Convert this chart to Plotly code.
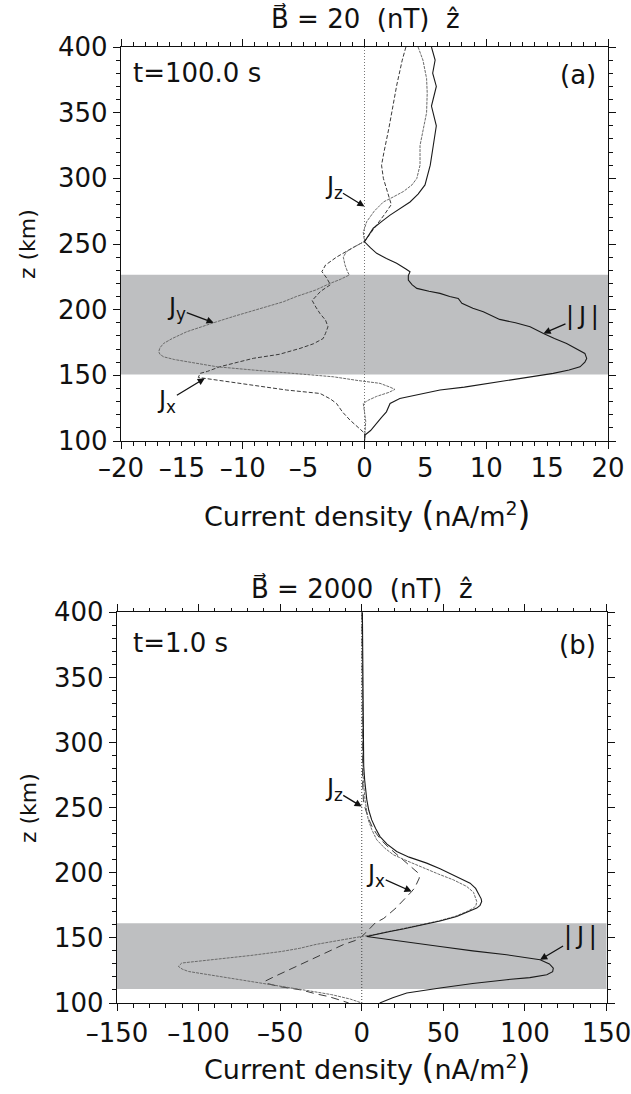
import numpy as np
import plotly.graph_objects as go

W, H = 631, 1094

# ---------------- Panel (a): B = 20 nT, t = 100 s ----------------
a_jx_z = [400, 390, 371, 350, 338, 320, 310, 300, 290, 280, 272, 262, 252, 247, 240, 234, 229, 224, 219, 214,
          207, 202, 197, 192, 187, 182, 178, 174, 170.5, 166, 163, 160, 156.5, 153, 151.5, 148.4, 146, 142.6,
          138.8, 136.2, 132, 128.6, 122, 116, 110, 106, 100]
a_jx_v = [3.4, 3.1, 2.65, 2.25, 2.0, 1.6, 1.4, 1.55, 1.9, 2.2, 1.6, 0.8, 0.0, -1.0, -2.3, -3.2, -3.5, -3.1, -2.8, -3.6,
          -4.3, -4.0, -3.65, -3.2, -3.0, -3.2, -3.4, -4.2, -5.3, -7.0, -9.1, -10.4, -11.9, -12.9, -13.5, -13.65, -11.8, -9.1,
          -6.4, -3.65, -2.8, -2.3, -1.8, -1.2, -0.5, 0.0, 0.0]

a_jy_z = [400, 390, 376, 365, 350, 337, 325, 310, 300, 295, 290, 286, 282, 275, 267, 259, 252, 248, 244, 240,
          234, 229, 226.4, 223, 220, 215, 210, 206, 203, 199.7, 195, 190.8, 187, 183.2, 178, 174.3, 171, 168, 166,
          164.1, 162, 160.3, 158, 156.5, 154, 151.5, 148.9, 146, 143.9, 141, 139.3, 137, 134, 131, 128.6, 122, 115,
          108, 100]
a_jy_v = [4.4, 4.8, 5.1, 5.15, 5.1, 4.8, 4.56, 4.56, 4.3, 3.9, 3.2, 2.4, 1.55, 0.8, 0.18, -0.1, 0.0, -0.8, -1.5, -1.74,
          -1.6, -1.4, -1.25, -2.0, -2.83, -4.0, -5.6, -6.67, -7.8, -9.13, -10.7, -12.14, -13.3, -14.6, -15.8, -16.5, -16.8, -16.9, -16.8,
          -16.5, -15.6, -14.6, -13.2, -12.1, -9.1, -5.85, -2.56, -0.5, 1.27, 2.1, 2.5, 2.0, 1.0, 0.3, -0.1, 0.0, 0.1,
          0.05, 0.0]

a_jz_z = [100, 150, 200, 250, 300, 350, 400]
a_jz_v = [0, 0, 0, 0, 0, 0, 0]

a_jm_z = [400, 390, 380, 370, 355, 340, 325, 310, 295, 288, 282, 277, 272, 267, 262, 256, 251.7, 247, 242.9, 239,
          235.3, 231, 228.9, 226, 222.5, 219, 216.2, 214, 212.4, 210, 208.6, 204.8, 201, 198.4, 195, 192.6, 190, 187,
          181.9, 178, 174.3, 170, 166.7, 162.9, 160, 156.5, 154, 151.5, 148, 143.9, 141, 138.8, 135, 132.4, 128.6,
          125, 122.2, 118, 113.4, 108, 104.5, 100]
a_jm_v = [5.5, 5.8, 5.6, 5.9, 5.5, 5.9, 5.65, 5.4, 4.97, 4.4, 3.74, 2.9, 2.1, 1.4, 0.72, 0.3, 0.0, 0.5, 1.0, 1.8,
          2.64, 3.4, 3.74, 3.6, 3.6, 3.9, 4.3, 5.3, 6.2, 7.0, 7.7, 8.0, 8.9, 9.76, 10.5, 11.1, 12.4, 13.6,
          14.7, 15.6, 16.6, 17.4, 18.1, 18.25, 18.1, 17.7, 16.8, 15.5, 13.0, 10.3, 8.2, 6.2, 4.2, 2.9, 2.1,
          1.9, 1.8, 1.4, 1.0, 0.5, 0.04, 0.0]

a_band = [150.7, 226.6]

# ---------------- Panel (b): B = 2000 nT, t = 1 s ----------------
b_jm_z = [400, 350, 300, 282, 271, 256, 248, 240.6, 234, 227.8, 222, 216.3, 212, 207.4, 203, 198.4, 195, 192, 188,
          184.4, 180, 177.9, 175, 172.9, 170, 166.4, 163, 160, 157, 154.9, 152.5, 151.1, 149.5, 147, 143.4, 140, 137,
          133.2, 130, 126.8, 124, 121.7, 119.5, 117.9, 115, 111.5, 107.7, 104, 101.2, 100]
b_jm_v = [0.4, 0.6, 0.9, 1.2, 1.8, 3.1, 4.3, 6.1, 8.5, 11.2, 15.5, 21.4, 29, 39.8, 48, 56.1, 61.5, 66.4, 69.8,
          71.5, 73.2, 73.5, 72.5, 70.5, 65, 58.2, 48, 37.7, 26, 17.3, 9, 3.0, 12, 28, 48, 68, 88.8,
          109.3, 115, 117.4, 117, 113.4, 103, 88.8, 68, 48, 27.6, 19, 13.2, 11]

b_jy_z = [400, 350, 300, 282, 271, 256, 248, 240.6, 233, 225.3, 219, 213.8, 209, 203.6, 199, 194.6, 189.5, 185,
          181.8, 177.9, 175, 172.9, 170, 166.4, 163, 160, 157, 154.9, 152.5, 151.1, 148, 145, 142, 139.6, 136.5,
          133.2, 131.5, 130.7, 128.1, 126, 124.2, 122, 119.2, 116, 112.7, 109.5, 106.4, 103, 100]
b_jy_v = [0.2, 0.3, 0.5, 0.7, 1.0, 2.0, 3.0, 4.0, 6.2, 9.2, 14, 19.4, 28, 37.7, 47, 56.1, 64.3, 68.5,
          69.4, 70.5, 70, 68.5, 64, 57, 47, 36.5, 25, 16.5, 7.5, 0, -14, -28, -38, -49, -68,
          -89.9, -102, -110.3, -112.4, -110, -106.2, -95, -79.7, -64, -49, -33, -18.4, -7, 0]

b_jx_z = [400, 300, 271, 256, 250, 242, 235, 230, 225, 220, 215, 210, 206, 202, 199.7, 196, 192, 188.5, 185.6,
          182, 178, 173, 169, 165, 161.4, 157, 154, 151.1, 148, 145, 141, 137, 131, 125.5, 120, 116.6, 115, 112.5,
          110, 107, 105, 102.5, 100]
b_jx_v = [0.1, 0.3, 0.5, 1.0, 2.0, 4, 6.5, 9, 12, 16, 20.5, 25, 28.5, 32, 34.7, 35.3, 33.7, 32.5, 30.6,
          28, 24.5, 21, 17.3, 13.5, 8.2, 5, 2.5, 0, -4, -11, -18, -24.5, -35, -45, -54, -59.5, -58, -50,
          -37, -28, -20.5, -14, -8]

b_jz_z = [100, 150, 200, 250, 300, 350, 400]
b_jz_v = [0, 0, 0, 0, 0, 0, 0]

b_band = [110.7, 161.3]

a_xticks = [-20, -15, -10, -5, 0, 5, 10, 15, 20]
b_xticks = [-150, -100, -50, 0, 50, 100, 150]
yticks = [100, 150, 200, 250, 300, 350, 400]

# ---------------- layout geometry (pixels) ----------------
A_L, A_R, A_T, A_B = 121, 608, 47, 441
B_L, B_R, B_T, B_B = 117, 606.5, 612.3, 1003

def fx(x):
    return x / W

def fy(y):
    return 1 - y / H

DJ = "DejaVu Sans, sans-serif"
TICKFONT = dict(family=DJ, size=26, color="#111")
LABFONT = dict(family=DJ, size=24, color="#111")
XTITFONT = dict(family=DJ, size=27, color="#111")
YTITFONT = dict(family=DJ, size=22, color="#111")
HEADFONT = dict(family=DJ, size=26, color="#111")

fig = go.Figure()

def add_panel(xa, ya, jz, jx, jy, jm, dash_x, jz_col):
    fig.add_trace(go.Scatter(x=jz[1], y=jz[0], mode="lines", xaxis=xa, yaxis=ya,
                             line=dict(color=jz_col, width=1, dash="1px,2px"), showlegend=False))
    fig.add_trace(go.Scatter(x=jx[1], y=jx[0], mode="lines", xaxis=xa, yaxis=ya,
                             line=dict(color="#3a3a3a", width=1, dash=dash_x), showlegend=False))
    fig.add_trace(go.Scatter(x=jy[1], y=jy[0], mode="lines", xaxis=xa, yaxis=ya,
                             line=dict(color="#6a6a6a", width=1, dash="3px,1px"), showlegend=False))
    fig.add_trace(go.Scatter(x=jm[1], y=jm[0], mode="lines", xaxis=xa, yaxis=ya,
                             line=dict(color="#1a1a1a", width=1.1), showlegend=False))

add_panel("x", "y", (a_jz_z, a_jz_v), (a_jx_z, a_jx_v), (a_jy_z, a_jy_v), (a_jm_z, a_jm_v), "4px,2px", "#777")
add_panel("x2", "y2", (b_jz_z, b_jz_v), (b_jx_z, b_jx_v), (b_jy_z, b_jy_v), (b_jm_z, b_jm_v), "8px,5px", "#444")

common_axis = dict(showline=True, linecolor="#111", linewidth=1.3, mirror="ticks", ticks="outside",
                   tickcolor="#111", tickwidth=1.2, showgrid=False, zeroline=False, tickfont=TICKFONT,
                   automargin=False, ticklabeloverflow="allow")

def dash_minus(t):
    return ("\u2013" + str(-t)) if t < 0 else str(t)

fig.update_layout(
    width=W, height=H, margin=dict(l=0, r=0, t=0, b=0, pad=0, autoexpand=False),
    paper_bgcolor="white", plot_bgcolor="white",
    xaxis=dict(domain=[fx(A_L), fx(A_R)], anchor="y", range=[-20, 20], tickvals=a_xticks,
               ticktext=[dash_minus(t) for t in a_xticks], ticklen=3.5,
               minor=dict(dtick=1, ticklen=3.5, tickcolor="#111", ticks="outside"), **common_axis),
    xaxis3=dict(overlaying="x", anchor="y", range=[-20, 20], dtick=10, tick0=0, ticklen=7,
                showticklabels=False, ticks="outside", mirror="ticks", showline=False, tickcolor="#111",
                tickwidth=1.2, showgrid=False, zeroline=False, automargin=False),
    yaxis=dict(domain=[fy(A_B), fy(A_T)], anchor="x", range=[100, 400], tickvals=yticks, ticklen=7,
               minor=dict(dtick=10, ticklen=3.5, tickcolor="#111", ticks="outside"), **common_axis),
    xaxis2=dict(domain=[fx(B_L), fx(B_R)], anchor="y2", range=[-150, 150], tickvals=b_xticks,
                ticktext=[dash_minus(t) for t in b_xticks], ticklen=7,
                minor=dict(dtick=10, ticklen=3.5, tickcolor="#111", ticks="outside"), **common_axis),
    yaxis2=dict(domain=[fy(B_B), fy(B_T)], anchor="x2", range=[100, 400], tickvals=yticks, ticklen=7,
                minor=dict(dtick=10, ticklen=3.5, tickcolor="#111", ticks="outside"), **common_axis),
)

# invisible trace so the overlay tick axis is drawn
fig.add_trace(go.Scatter(x=[None], y=[None], xaxis="x3", yaxis="y", showlegend=False, hoverinfo="skip"))

# shaded bands
fig.add_shape(type="rect", xref="x domain", yref="y", x0=0, x1=1, y0=a_band[0], y1=a_band[1],
              fillcolor="#bebfc1", line=dict(width=0), layer="below")
fig.add_shape(type="rect", xref="x2 domain", yref="y2", x0=0, x1=1, y0=b_band[0], y1=b_band[1],
              fillcolor="#bebfc1", line=dict(width=0), layer="below")

ann = []

def text(x, y, s, font=LABFONT, xanchor="center", yanchor="middle", angle=0):
    ann.append(dict(x=fx(x), y=fy(y), xref="paper", yref="paper", text=s, showarrow=False,
                    font=font, xanchor=xanchor, yanchor=yanchor, textangle=angle))

def label_arrow(xa, ya, zs, vs, ztip, s, ax, ay):
    order = np.argsort(zs)
    vt = float(np.interp(ztip, np.array(zs)[order], np.array(vs)[order]))
    ann.append(dict(x=vt, y=ztip, xref=xa, yref=ya, text=s, font=LABFONT, showarrow=True, ax=ax, ay=ay,
                    arrowhead=2, arrowsize=1.1, arrowwidth=1.3, arrowcolor="#111", standoff=0,
                    borderpad=0))

ABSJ = "|\u2009J\u2009|"

# titles
text(365, 19, "B\u20D7 = 20  (nT)  z\u0302", font=HEADFONT)
text(362, 588, "B\u20D7 = 2000  (nT)  z\u0302", font=HEADFONT)
# axis titles
big_par = "<span style='font-size:33px'>(</span>nA/m<sup>2</sup><span style='font-size:33px'>)</span>"
text(367, 514, "Current density " + big_par, font=XTITFONT)
text(367, 1067, "Current density " + big_par, font=XTITFONT)
text(28, 244, "z (km)", font=YTITFONT, angle=-90)
text(28, 808, "z (km)", font=YTITFONT, angle=-90)
# panel labels
text(131, 73, "t=100.0 s", font=TICKFONT, xanchor="left")
text(598, 75, "(a)", font=TICKFONT, xanchor="right")
text(131, 643, "t=1.0 s", font=TICKFONT, xanchor="left")
text(598, 645, "(b)", font=TICKFONT, xanchor="right")

# curve labels (panel a)
label_arrow("x", "y", a_jz_z, a_jz_v, 278.6, "J<sub>z</sub>", -31, -19)
label_arrow("x", "y", a_jy_z, a_jy_v, 190.0, "J<sub>y</sub>", -37, -14)
label_arrow("x", "y", a_jx_z, a_jx_v, 147.7, "J<sub>x</sub>", -38, 23)
label_arrow("x", "y", a_jm_z, a_jm_v, 181.9, ABSJ, 39, -17)

# curve labels (panel b)
label_arrow("x2", "y2", b_jz_z, b_jz_v, 250.8, "J<sub>z</sub>", -28, -17)
label_arrow("x2", "y2", b_jx_z, b_jx_v, 185.6, "J<sub>x</sub>", -36, -16)
label_arrow("x2", "y2", b_jm_z, b_jm_v, 133.2, ABSJ, 40, -24)

fig.update_layout(annotations=ann)

fig.write_html("out.html")
